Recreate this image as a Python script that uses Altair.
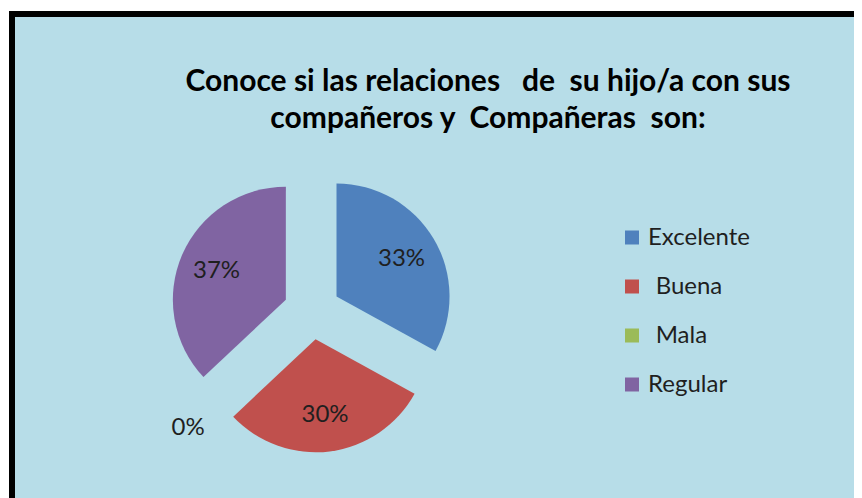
import altair as alt
import pandas as pd

# ---- data ----
categories = ["Excelente", "Buena", "Mala", "Regular"]
values = [33, 30, 0, 37]
labels = ["33%", "30%", "0%", "37%"]
colors = ["#4F81BD", "#C0504D", "#9BBB59", "#8064A2"]
indented = ["Buena", "Mala"]   # legend entries shown with a leading space
title_lines = [
    "Conoce si las relaciones\u00a0\u00a0 de\u00a0 su hijo/a con sus",
    "compañeros y\u00a0 Compañeras\u00a0 son:",
]

# ---- layout / style constants ----
CX, CY = 300.0, 297.0      # pie centre (plot coordinates)
R = 113                    # slice radius
EXPLODE = 28.5             # explosion distance
LABEL_R = 104              # label radius for non-zero slices
ZERO_LABEL_R = 170         # label radius for zero slices
FONT = "Lato"

df = pd.DataFrame({
    "cat": categories,
    "value": values,
    "label": labels,
    "order": list(range(len(categories))),
})

base = (
    alt.Chart(df)
    .transform_joinaggregate(total="sum(value)")
    .transform_window(cum="sum(value)", sort=[alt.SortField("order")], frame=[None, 0])
    .transform_calculate(
        t0="(datum.cum - datum.value) / datum.total * 2 * PI",
        t1="datum.cum / datum.total * 2 * PI",
    )
    .transform_calculate(mid="(datum.t0 + datum.t1) / 2")
    .transform_calculate(
        px=f"{CX} + {EXPLODE} * sin(datum.mid)",
        py=f"{CY} - {EXPLODE} * cos(datum.mid)",
        lr=f"datum.value > 0 ? {LABEL_R} : {ZERO_LABEL_R}",
    )
    .transform_calculate(
        lx=f"{CX} + datum.lr * sin(datum.mid)",
        ly=f"{CY} - datum.lr * cos(datum.mid)",
    )
)

# leading zero-width space keeps the following space from being trimmed
indent_list = ", ".join(f"'{c}'" for c in indented)
label_expr = (
    f"indexof([{indent_list}], datum.label) >= 0 ? "
    "'\u200b\u00a0\u200a' + datum.label : datum.label"
)

arcs = base.mark_arc(outerRadius=R).encode(
    theta=alt.Theta("t0:Q", scale=None),
    theta2="t1:Q",
    x=alt.X("px:Q", scale=None, axis=None),
    y=alt.Y("py:Q", scale=None, axis=None),
    color=alt.Color(
        "cat:N",
        scale=alt.Scale(domain=categories, range=colors),
        legend=alt.Legend(
            title=None,
            orient="none",
            legendX=608,
            legendY=211.5,
            padding=0,
            symbolType="square",
            symbolSize=196,
            symbolStrokeWidth=0,
            labelFont=FONT,
            labelFontSize=24,
            labelColor="#1F1F1F",
            labelOffset=4,
            rowPadding=25,
            labelExpr=label_expr,
        ),
    ),
    order=alt.Order("order:Q"),
)

texts = base.mark_text(font=FONT, fontSize=24, color="#1F1F1F", dy=1).encode(
    x=alt.X("lx:Q", scale=None, axis=None),
    y=alt.Y("ly:Q", scale=None, axis=None),
    text="label:N",
)

chart = (
    alt.layer(arcs, texts)
    .properties(
        width=860,
        height=500,
        autosize=alt.AutoSizeParams(type="none"),
        padding={"left": 4, "top": 6, "right": -18, "bottom": -16},
        background="white",
        title=alt.TitleParams(
            text=title_lines,
            font=FONT,
            fontSize=30,
            fontWeight="bold",
            color="black",
            anchor="middle",
            frame="group",
            lineHeight=37,
            dx=46,
            dy=124,
        ),
    )
    .configure_view(fill="#B7DDE8", stroke="black", strokeWidth=6)
)

chart.save("out.html", embed_options={"renderer": "svg", "actions": False})
